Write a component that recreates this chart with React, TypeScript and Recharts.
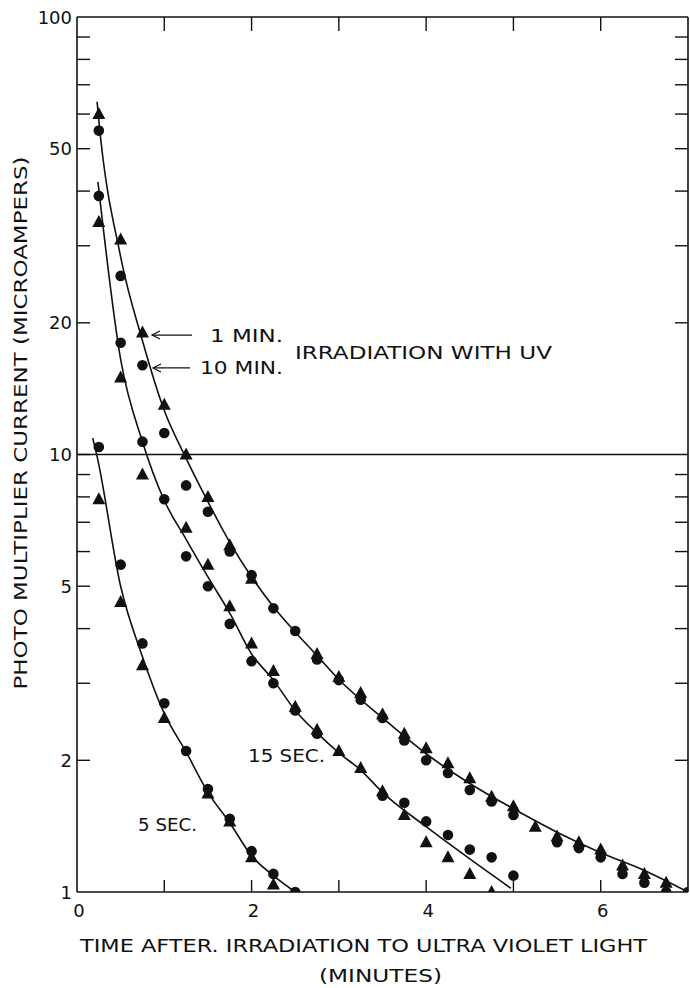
import React from 'react';
import { ComposedChart, XAxis, YAxis, Line, Scatter, ReferenceLine, ReferenceDot } from 'recharts';

// ---- data (x: minutes, y: microamperes) ----
const upperTriangles = [
  { x: 0.25, y: 60 }, { x: 0.5, y: 31 }, { x: 0.75, y: 19 }, { x: 1.0, y: 13 }, { x: 1.25, y: 10 },
  { x: 1.5, y: 8.0 }, { x: 1.75, y: 6.2 }, { x: 2.0, y: 5.2 }, { x: 2.75, y: 3.5 }, { x: 3.0, y: 3.1 },
  { x: 3.25, y: 2.85 }, { x: 3.5, y: 2.55 }, { x: 3.75, y: 2.3 }, { x: 4.0, y: 2.13 }, { x: 4.25, y: 1.97 },
  { x: 4.5, y: 1.82 }, { x: 4.75, y: 1.65 }, { x: 5.0, y: 1.57 }, { x: 5.25, y: 1.41 }, { x: 5.5, y: 1.34 },
  { x: 5.75, y: 1.3 }, { x: 6.0, y: 1.25 }, { x: 6.25, y: 1.15 }, { x: 6.5, y: 1.1 }, { x: 6.75, y: 1.05 },
];
const upperCircles = [
  { x: 0.25, y: 55 }, { x: 0.5, y: 25.6 }, { x: 0.75, y: 16 }, { x: 1.0, y: 11.2 }, { x: 1.25, y: 8.5 },
  { x: 1.5, y: 7.4 }, { x: 1.75, y: 6.0 }, { x: 2.0, y: 5.3 }, { x: 2.25, y: 4.45 }, { x: 2.5, y: 3.95 },
  { x: 2.75, y: 3.4 }, { x: 3.0, y: 3.05 }, { x: 3.25, y: 2.75 }, { x: 3.5, y: 2.5 }, { x: 3.75, y: 2.22 },
  { x: 4.0, y: 2.0 }, { x: 4.25, y: 1.87 }, { x: 4.5, y: 1.71 }, { x: 4.75, y: 1.61 }, { x: 5.0, y: 1.5 },
  { x: 5.5, y: 1.3 }, { x: 5.75, y: 1.26 }, { x: 6.0, y: 1.2 }, { x: 6.25, y: 1.1 }, { x: 6.5, y: 1.05 },
  { x: 6.75, y: 1.0 }, { x: 7.0, y: 1.0 },
];
const middleTriangles = [
  { x: 0.25, y: 34 }, { x: 0.5, y: 15 }, { x: 0.75, y: 9.0 }, { x: 1.25, y: 6.8 }, { x: 1.5, y: 5.6 },
  { x: 1.75, y: 4.5 }, { x: 2.0, y: 3.7 }, { x: 2.25, y: 3.2 }, { x: 2.5, y: 2.65 }, { x: 2.75, y: 2.35 },
  { x: 3.0, y: 2.1 }, { x: 3.25, y: 1.92 }, { x: 3.5, y: 1.7 }, { x: 3.75, y: 1.5 }, { x: 4.0, y: 1.3 },
  { x: 4.25, y: 1.2 }, { x: 4.5, y: 1.1 }, { x: 4.75, y: 1.0 },
];
const middleCircles = [
  { x: 0.25, y: 39 }, { x: 0.5, y: 18 }, { x: 0.75, y: 10.7 }, { x: 1.0, y: 7.9 }, { x: 1.25, y: 5.85 },
  { x: 1.5, y: 5.0 }, { x: 1.75, y: 4.1 }, { x: 2.0, y: 3.37 }, { x: 2.25, y: 3.0 }, { x: 2.5, y: 2.6 },
  { x: 2.75, y: 2.3 }, { x: 3.5, y: 1.66 }, { x: 3.75, y: 1.6 }, { x: 4.0, y: 1.45 }, { x: 4.25, y: 1.35 },
  { x: 4.5, y: 1.25 }, { x: 4.75, y: 1.2 }, { x: 5.0, y: 1.09 },
];
const lowerTriangles = [
  { x: 0.25, y: 7.9 }, { x: 0.5, y: 4.6 }, { x: 0.75, y: 3.3 }, { x: 1.0, y: 2.5 }, { x: 1.5, y: 1.68 },
  { x: 1.75, y: 1.45 }, { x: 2.0, y: 1.2 }, { x: 2.25, y: 1.04 },
];
const lowerCircles = [
  { x: 0.25, y: 10.4 }, { x: 0.5, y: 5.6 }, { x: 0.75, y: 3.7 }, { x: 1.0, y: 2.7 }, { x: 1.25, y: 2.1 },
  { x: 1.5, y: 1.72 }, { x: 1.75, y: 1.47 }, { x: 2.0, y: 1.24 }, { x: 2.25, y: 1.1 }, { x: 2.5, y: 1.0 },
];

// fitted curves
const upperCurve = [
  { x: 0.23, y: 64 }, { x: 0.25, y: 58 }, { x: 0.5, y: 28.3 }, { x: 0.75, y: 18.2 }, { x: 1.0, y: 12.6 },
  { x: 1.25, y: 9.8 }, { x: 1.5, y: 7.8 }, { x: 1.75, y: 6.3 }, { x: 2.0, y: 5.25 }, { x: 2.25, y: 4.49 },
  { x: 2.5, y: 3.93 }, { x: 2.75, y: 3.47 }, { x: 3.0, y: 3.06 }, { x: 3.5, y: 2.5 }, { x: 4.0, y: 2.07 },
  { x: 4.5, y: 1.77 }, { x: 5.0, y: 1.55 }, { x: 5.5, y: 1.37 }, { x: 6.0, y: 1.23 }, { x: 6.5, y: 1.12 },
  { x: 7.0, y: 1.0 },
];
const middleCurve = [
  { x: 0.24, y: 42 }, { x: 0.5, y: 16.5 }, { x: 0.75, y: 10.7 }, { x: 1.0, y: 7.85 }, { x: 1.25, y: 6.4 },
  { x: 1.5, y: 5.25 }, { x: 1.75, y: 4.34 }, { x: 2.0, y: 3.5 }, { x: 2.25, y: 3.05 }, { x: 2.5, y: 2.6 },
  { x: 2.75, y: 2.31 }, { x: 3.0, y: 2.08 }, { x: 3.25, y: 1.9 }, { x: 3.5, y: 1.69 }, { x: 4.0, y: 1.41 },
  { x: 4.5, y: 1.19 }, { x: 4.97, y: 1.02 },
];
const lowerCurve = [
  { x: 0.18, y: 10.9 }, { x: 0.23, y: 9.9 }, { x: 0.5, y: 5.0 }, { x: 0.75, y: 3.45 }, { x: 1.0, y: 2.56 },
  { x: 1.25, y: 2.09 }, { x: 1.5, y: 1.69 }, { x: 1.75, y: 1.44 }, { x: 2.0, y: 1.21 }, { x: 2.25, y: 1.09 },
  { x: 2.5, y: 1.0 },
];

const yTicks = [1, 2, 3, 4, 5, 6, 7, 8, 9, 10, 20, 30, 40, 50, 60, 70, 80, 90, 100];
const yTickLabels = [1, 2, 5, 10, 20, 50, 100];
const xTicks = [0, 1, 2, 3, 4, 5, 6, 7];
const xTickLabels = [0, 2, 4, 6];

const INK = '#111';
const FONT = "'DejaVu Sans', 'Liberation Sans', sans-serif";

const LeftTick = (props: any) => {
  const { x, y, payload } = props;
  const v = payload.value;
  return (
    <g>
      {v !== 1 && v !== 100 && <line x1={x} y1={y} x2={x + 13} y2={y} stroke={INK} strokeWidth={1.4} />}
      {yTickLabels.includes(v) && (
        <text x={x - 5} y={y + 6.5} textAnchor="end" fontSize={18} fontFamily={FONT} fill={INK}>
          {v}
        </text>
      )}
    </g>
  );
};
const RightTick = (props: any) => {
  const { x, y, payload } = props;
  const v = payload.value;
  if (v === 1 || v === 100 || v === 10) return <g />;
  return <line x1={x} y1={y} x2={x - 13} y2={y} stroke={INK} strokeWidth={1.4} />;
};
const TopTick = (props: any) => {
  const { x, y, payload } = props;
  const v = payload.value;
  if (v <= 0 || v >= 7) return <g />;
  return <line x1={x} y1={y} x2={x} y2={y + 14} stroke={INK} strokeWidth={1.4} />;
};
const BottomTick = (props: any) => {
  const { x, y, payload } = props;
  const v = payload.value;
  return (
    <g>
      {v > 0 && v < 7 && <line x1={x} y1={y} x2={x} y2={y - 12} stroke={INK} strokeWidth={1.4} />}
      {xTickLabels.includes(v) && (
        <text x={x + 2} y={y + 25} textAnchor="middle" fontSize={18} fontFamily={FONT} fill={INK}>
          {v}
        </text>
      )}
    </g>
  );
};

const CircleMark = (p: any) => <circle cx={p.cx} cy={p.cy} r={5.3} fill={INK} />;
const TriMark = (p: any) => (
  <polygon points={`${p.cx},${p.cy - 7} ${p.cx - 6.5},${p.cy + 5} ${p.cx + 6.5},${p.cy + 5}`} fill={INK} />
);

const txt = (x: number, y: number, s: string, len: number, extra: any = {}) => (
  <text x={x} y={y} fontSize={18} fontFamily={FONT} fill={INK} textLength={len} lengthAdjust="spacingAndGlyphs" {...extra}>
    {s}
  </text>
);

const ArrowLabel = (text: string, textOffset: number, tail: number, len: number, dyArrow: number) => (p: any) => {
  const { cx, cy } = p;
  return (
    <g>
      <line x1={cx} y1={cy + dyArrow} x2={cx + tail} y2={cy + dyArrow} stroke={INK} strokeWidth={1.2} />
      <polyline
        points={`${cx + 8},${cy + dyArrow - 4} ${cx},${cy + dyArrow} ${cx + 8},${cy + dyArrow + 4}`}
        fill="none"
        stroke={INK}
        strokeWidth={1.2}
      />
      {txt(cx + textOffset, cy + 6.5, text, len)}
    </g>
  );
};
const TextLabel = (text: string, len: number) => (p: any) => {
  const { cx, cy } = p;
  return <g>{txt(cx, cy + 6.5, text, len)}</g>;
};

const XLabel = (props: any) => {
  const vb = props.viewBox;
  const cx = vb.x + vb.width / 2;
  return (
    <g>
      {txt(cx - 19, vb.y + 60, 'TIME AFTER. IRRADIATION TO ULTRA VIOLET LIGHT', 567, { textAnchor: 'middle' })}
      {txt(cx - 2, vb.y + 90, '(MINUTES)', 123, { textAnchor: 'middle' })}
    </g>
  );
};
const YLabel = (props: any) => {
  const vb = props.viewBox;
  const x = vb.x + 27;
  const y = 423;
  return (
    <g transform={`rotate(-90, ${x}, ${y})`}>
      {txt(x, y, 'PHOTO MULTIPLIER CURRENT (MICROAMPERS)', 533, { textAnchor: 'middle' })}
    </g>
  );
};

export default function App() {
  return (
    <div style={{ position: 'absolute', left: 0, top: 0, background: '#fff' }}>
      <ComposedChart width={690} height={988} margin={{ top: 16, right: 1, bottom: 66, left: 0 }}>
        <XAxis
          xAxisId="b"
          dataKey="x"
          type="number"
          domain={[0, 7]}
          ticks={xTicks}
          interval={0}
          orientation="bottom"
          height={30}
          tickSize={0}
          tickMargin={0}
          tickLine={false}
          axisLine={{ stroke: INK, strokeWidth: 1.6 }}
          tick={BottomTick}
          label={{ content: XLabel }}
          allowDataOverflow
        />
        <XAxis
          xAxisId="t"
          dataKey="x"
          type="number"
          domain={[0, 7]}
          ticks={xTicks}
          interval={0}
          orientation="top"
          height={1}
          tickSize={0}
          tickMargin={0}
          tickLine={false}
          axisLine={{ stroke: INK, strokeWidth: 1.6 }}
          tick={TopTick}
          allowDataOverflow
        />
        <YAxis
          yAxisId="l"
          dataKey="y"
          type="number"
          scale="log"
          domain={[1, 100]}
          ticks={yTicks}
          interval={0}
          orientation="left"
          width={77}
          tickSize={0}
          tickMargin={0}
          tickLine={false}
          axisLine={{ stroke: INK, strokeWidth: 1.6 }}
          tick={LeftTick}
          label={{ content: YLabel }}
          allowDataOverflow
        />
        <YAxis
          yAxisId="r"
          dataKey="y"
          type="number"
          scale="log"
          domain={[1, 100]}
          ticks={yTicks}
          interval={0}
          orientation="right"
          width={1}
          tickSize={0}
          tickMargin={0}
          tickLine={false}
          axisLine={{ stroke: INK, strokeWidth: 1.6 }}
          tick={RightTick}
          allowDataOverflow
        />
        <ReferenceLine xAxisId="b" yAxisId="l" y={10} stroke={INK} strokeWidth={1.3} />

        <Line xAxisId="b" yAxisId="l" data={upperCurve} dataKey="y" type="monotone" dot={false} activeDot={false} stroke={INK} strokeWidth={1.6} isAnimationActive={false} />
        <Line xAxisId="b" yAxisId="l" data={middleCurve} dataKey="y" type="monotone" dot={false} activeDot={false} stroke={INK} strokeWidth={1.6} isAnimationActive={false} />
        <Line xAxisId="b" yAxisId="l" data={lowerCurve} dataKey="y" type="monotone" dot={false} activeDot={false} stroke={INK} strokeWidth={1.6} isAnimationActive={false} />

        <Scatter xAxisId="b" yAxisId="l" data={upperCircles} shape={CircleMark} isAnimationActive={false} />
        <Scatter xAxisId="b" yAxisId="l" data={upperTriangles} shape={TriMark} isAnimationActive={false} />
        <Scatter xAxisId="b" yAxisId="l" data={middleCircles} shape={CircleMark} isAnimationActive={false} />
        <Scatter xAxisId="b" yAxisId="l" data={middleTriangles} shape={TriMark} isAnimationActive={false} />
        <Scatter xAxisId="b" yAxisId="l" data={lowerCircles} shape={CircleMark} isAnimationActive={false} />
        <Scatter xAxisId="b" yAxisId="l" data={lowerTriangles} shape={TriMark} isAnimationActive={false} />

        <ReferenceDot xAxisId="b" yAxisId="l" x={0.859} y={18.75} r={0} shape={ArrowLabel('1  MIN.', 58, 40, 73, 0)} />
        <ReferenceDot xAxisId="b" yAxisId="l" x={0.871} y={15.77} r={0} shape={ArrowLabel('10 MIN.', 47, 37, 83, 0)} />
        <ReferenceDot xAxisId="b" yAxisId="l" x={2.497} y={17.15} r={0} shape={TextLabel('IRRADIATION WITH UV', 257)} />
        <ReferenceDot xAxisId="b" yAxisId="l" x={1.959} y={2.056} r={0} shape={TextLabel('15 SEC.', 77)} />
        <ReferenceDot xAxisId="b" yAxisId="l" x={0.699} y={1.43} r={0} shape={TextLabel('5 SEC.', 59)} />
      </ComposedChart>
    </div>
  );
}
